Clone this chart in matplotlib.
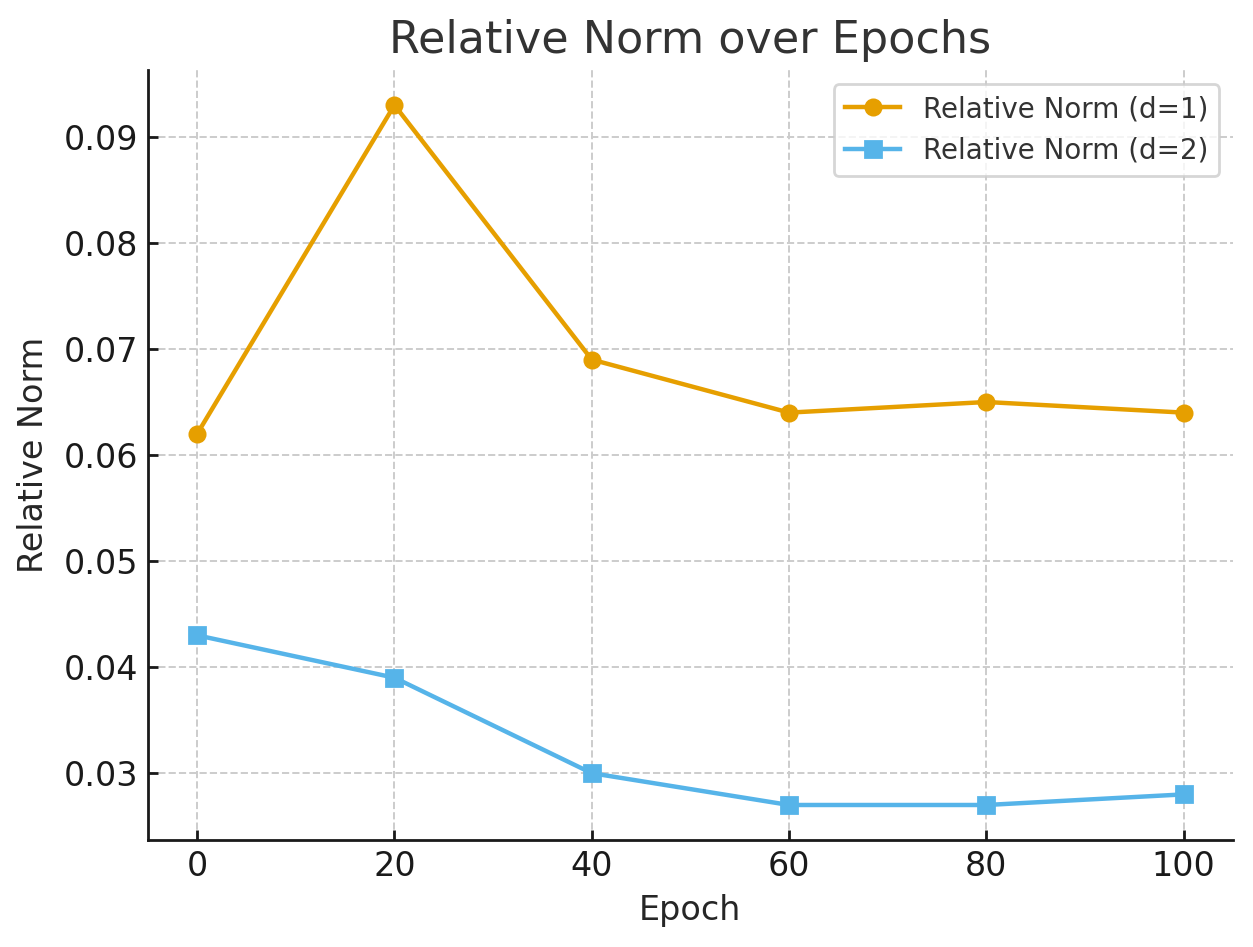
import numpy as np
from matplotlib import pyplot as plt

epochs = [0, 20, 40, 60, 80, 100]
norm_d1 = [0.062, 0.093, 0.069, 0.064, 0.065, 0.064]
norm_d2 = [0.043, 0.039, 0.030, 0.027, 0.027, 0.028]

fig, ax = plt.subplots(figsize=(6.265, 4.735), dpi=200)

ax.plot(epochs, norm_d1, marker="o", color="#E69F00", linewidth=1.6, markersize=5.5, label="Relative Norm (d=1)")
ax.plot(epochs, norm_d2, marker="s", color="#56B4E9", linewidth=1.6, markersize=5.5, label="Relative Norm (d=2)")

ax.set_title("Relative Norm over Epochs", fontsize=16, color="#333333")
ax.set_xlabel("Epoch", fontsize=12, color="#262626", labelpad=4)
ax.set_ylabel("Relative Norm", fontsize=12, color="#262626", labelpad=5)
ax.tick_params(labelsize=12, colors="#1a1a1a", direction="in", length=3.5, width=1)
ax.grid(True, linestyle="--", color="#cccccc", linewidth=0.7)
ax.spines["top"].set_visible(False)
ax.spines["right"].set_visible(False)
for s in ("left", "bottom"):
    ax.spines[s].set_color("#1a1a1a")
    ax.spines[s].set_linewidth(1.0)
ax.legend(fontsize=10, labelcolor="#333333")

fig.subplots_adjust(left=0.118, right=0.984, top=0.926, bottom=0.113)
fig.savefig("out.png", dpi=200)
